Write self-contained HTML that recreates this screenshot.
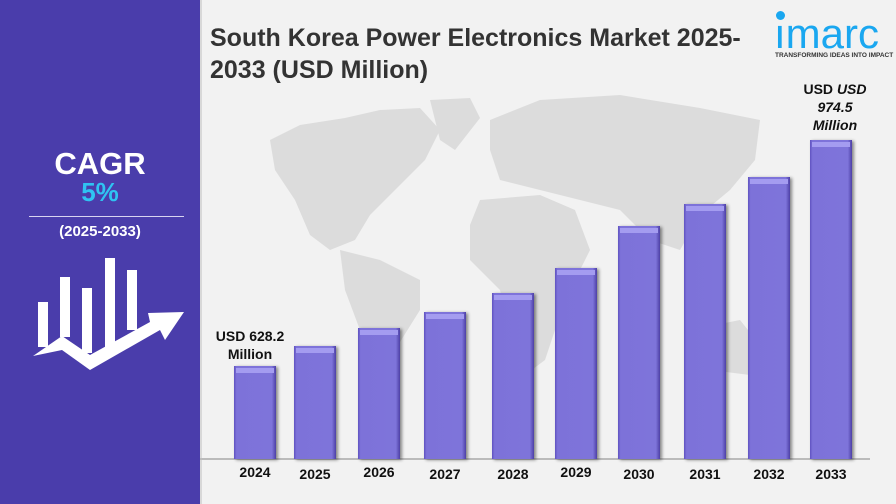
<!DOCTYPE html>
<html><head><meta charset="utf-8"><style>
body{margin:0;width:896px;height:504px;overflow:hidden;background:#f2f2f2;font-family:"Liberation Sans",sans-serif;position:relative}
.side{position:absolute;left:0;top:0;width:200px;height:504px;background:#4a3dab;border-right:2px solid #d8d8d8}
.t{position:absolute;font-weight:bold;color:#fff;text-align:center;width:200px}
.bar{position:absolute;width:42px;background:linear-gradient(90deg,#5f52c0 0,#7d72d9 6%,#7e74da 90%,#4d40a6 100%);box-shadow:2px 1px 3px rgba(0,0,0,.45)}
.bar:before{content:"";position:absolute;left:2px;right:2px;top:2px;height:5px;background:#a49cf0}
.yr{position:absolute;top:464px;width:60px;text-align:center;font-weight:bold;font-size:14px;color:#111}
.lbl{position:absolute;font-weight:bold;font-size:14px;color:#111;text-align:center;line-height:18px}
</style></head><body>
<svg style="position:absolute;left:0;top:0" width="896" height="504">
<g fill="#dcdcdc">
<path d="M270 140 L300 125 L345 118 L380 110 L420 108 L440 130 L425 160 L395 190 L370 215 L355 240 L330 250 L310 235 L295 200 L275 170 Z"/>
<path d="M430 100 L470 98 L480 118 L455 150 L440 140 Z"/>
<path d="M340 250 L380 260 L420 280 L420 310 L395 350 L375 390 L365 385 L360 330 L345 290 Z"/>
<path d="M480 200 L540 195 L575 210 L590 250 L565 300 L545 360 L525 375 L510 340 L500 290 L470 260 L470 225 Z"/>
<path d="M490 120 L540 100 L620 95 L700 108 L760 120 L755 160 L730 190 L700 215 L680 250 L650 240 L620 210 L580 200 L540 190 L500 180 L490 150 Z"/>
<path d="M690 330 L740 320 L760 345 L750 375 L710 370 L690 355 Z"/>
</g></svg>
<div class="side">
<div class="t" style="top:146px;font-size:31px">CAGR</div>
<div class="t" style="top:177px;font-size:26px;color:#2fc3f2">5%</div>
<div style="position:absolute;left:29px;top:216px;width:155px;height:1px;background:#d8d4f0"></div>
<div class="t" style="top:223px;font-size:15px">(2025-2033)</div>
<svg style="position:absolute;left:0;top:0" width="200" height="504">
<g fill="#fff">
<rect x="38" y="302" width="10" height="45"/>
<rect x="60" y="277" width="10" height="60"/>
<rect x="82" y="288" width="10" height="65"/>
<rect x="105" y="258" width="10" height="95"/>
<rect x="127" y="270" width="10" height="60"/>
<path d="M33 356 L62 336 L90 355 L150 322 L148 313 L184 312 L165 340 L160 330 L90 370 L62 350 Z"/>
</g></svg>
</div>
<div style="position:absolute;left:210px;top:22px;font-size:25px;font-weight:bold;color:#333;line-height:32px">South Korea Power Electronics Market 2025-<br>2033 (USD Million)</div>
<div style="position:absolute;left:776px;top:11px;width:9px;height:9px;border-radius:5px;background:#1aa7f0"></div>
<div style="position:absolute;left:774px;top:14px;font-size:42px;color:#1aa7f0;letter-spacing:0px;line-height:40px">ımarc</div>
<div style="position:absolute;left:775px;top:52px;font-size:6.5px;font-weight:bold;color:#333">TRANSFORMING IDEAS INTO IMPACT</div>
<div style="position:absolute;left:200px;top:458px;width:670px;height:2px;background:#bbb"></div>
<div class="bar" style="left:234px;top:366px;height:93px"></div>
<div class="bar" style="left:294px;top:346px;height:113px"></div>
<div class="bar" style="left:358px;top:328px;height:131px"></div>
<div class="bar" style="left:424px;top:312px;height:147px"></div>
<div class="bar" style="left:492px;top:293px;height:166px"></div>
<div class="bar" style="left:555px;top:268px;height:191px"></div>
<div class="bar" style="left:618px;top:226px;height:233px"></div>
<div class="bar" style="left:684px;top:204px;height:255px"></div>
<div class="bar" style="left:748px;top:177px;height:282px"></div>
<div class="bar" style="left:810px;top:140px;height:319px"></div>
<div class="yr" style="left:225px">2024</div>
<div class="yr" style="left:285px;top:466px">2025</div>
<div class="yr" style="left:349px">2026</div>
<div class="yr" style="left:415px;top:466px">2027</div>
<div class="yr" style="left:483px;top:466px">2028</div>
<div class="yr" style="left:546px">2029</div>
<div class="yr" style="left:609px;top:466px">2030</div>
<div class="yr" style="left:675px;top:466px">2031</div>
<div class="yr" style="left:739px;top:466px">2032</div>
<div class="yr" style="left:801px;top:466px">2033</div>
<div class="lbl" style="left:210px;top:327px;width:80px">USD 628.2<br>Million</div>
<div class="lbl" style="left:795px;top:80px;width:80px">USD <i>USD</i><br><i>974.5</i><br><i>Million</i></div>
</body></html>
